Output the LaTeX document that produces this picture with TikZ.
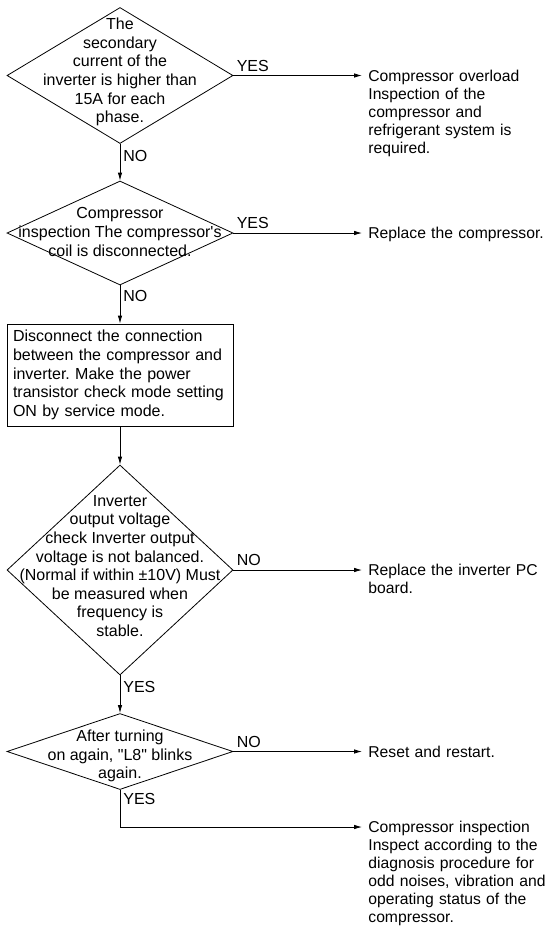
\documentclass[tikz,border=0pt]{standalone}
\usepackage{fontspec}
\setmainfont{Liberation Sans}
\usepackage{tikz}
\usetikzlibrary{arrows.meta, shapes.geometric, positioning}
\frenchspacing

\tikzset{
  decision/.style={diamond, draw, inner sep=0pt, minimum width=226pt},
  qtext/.style={align=center, inner sep=0pt},
  process/.style={rectangle, draw, text width=214pt, inner sep=6pt, minimum height=102pt, align=left},
  result/.style={text width=180pt, inner xsep=6pt, inner ysep=0pt, align=left, anchor=base west,
    font=\fontsize{15.7}{18}\selectfont},
  lbl/.style={inner xsep=3pt, inner ysep=3.5pt}
}

\begin{document}
\begin{tikzpicture}[x=1pt, y=-1pt, >={Latex[length=8pt, width=4.5pt]}, line width=0.8pt,
    font=\fontsize{16}{18.6}\selectfont]
    \useasboundingbox (0,0) rectangle (547,927);

    % Cac o quyet dinh
    \node[decision, minimum height=136pt] (q1) at (120,75.5) {};
    \node[qtext] (q1t) at (120,72) {The\\secondary\\current of the\\inverter is higher than\\15A for each\\phase.};
    \node[decision, minimum height=104pt] (q2) at (120,233) {};
    \node[qtext] (q2t) at (120,232) {Compressor\\inspection The compressor\textquotesingle s\\coil is disconnected.};
    \node[process] (b1) at (120,375) {Disconnect the connection\\between the compressor and\\inverter. Make the power\\transistor check mode setting\\ON by service mode.};
    \node[decision, minimum height=210pt] (q3) at (120,570) {};
    \node[qtext] (q3t) at (120,566) {Inverter\\output voltage\\check Inverter output\\voltage is not balanced.\\(Normal if within ±10V) Must\\be measured when\\frequency is\\stable.};
    \node[decision, minimum height=76pt] (q4) at (120,751.5) {};
    \node[qtext] (q4t) at (120,756) {After turning\\on again, \textquotedbl L8\textquotedbl\ blinks\\again.};

    % Ket qua
    \node[result] (r1) at (362,81.5) {Compressor overload\\Inspection of the\\compressor and\\refrigerant system is\\required.};
    \node[result] (r2) at (362,238.5) {Replace the compressor.};
    \node[result] (r3) at (362,575.5) {Replace the inverter PC\\board.};
    \node[result] (r4) at (362,757.5) {Reset and restart.};
    \node[result] (r5) at (362,832.5) {Compressor inspection\\Inspect according to the\\diagnosis procedure for\\odd noises, vibration and\\operating status of the\\compressor.};
    \coordinate (turn) at (120,827);

    % Mui ten
    \draw[->] (q1.east) -- node[lbl, above right, pos=0] {YES} (q1.east -| r1.west);
    \draw[->] (q1.south) -- node[lbl, right, pos=0.33] {NO} (q2.north);
    \draw[->] (q2.east) -- node[lbl, above right, pos=0] {YES} (q2.east -| r2.west);
    \draw[->] (q2.south) -- node[lbl, right, pos=0.29] {NO} (b1.north);
    \draw[->] (b1.south) -- (q3.north);
    \draw[->] (q3.east) -- node[lbl, above right, pos=0] {NO} (q3.east -| r3.west);
    \draw[->] (q3.south) -- node[lbl, right, pos=0.32] {YES} (q4.north);
    \draw[->] (q4.east) -- node[lbl, above right, pos=0] {NO} (q4.east -| r4.west);
    \draw[->] (q4.south) -- node[lbl, below right, pos=0] {YES} (turn) -- (turn -| r5.west);
\end{tikzpicture}
\end{document}
